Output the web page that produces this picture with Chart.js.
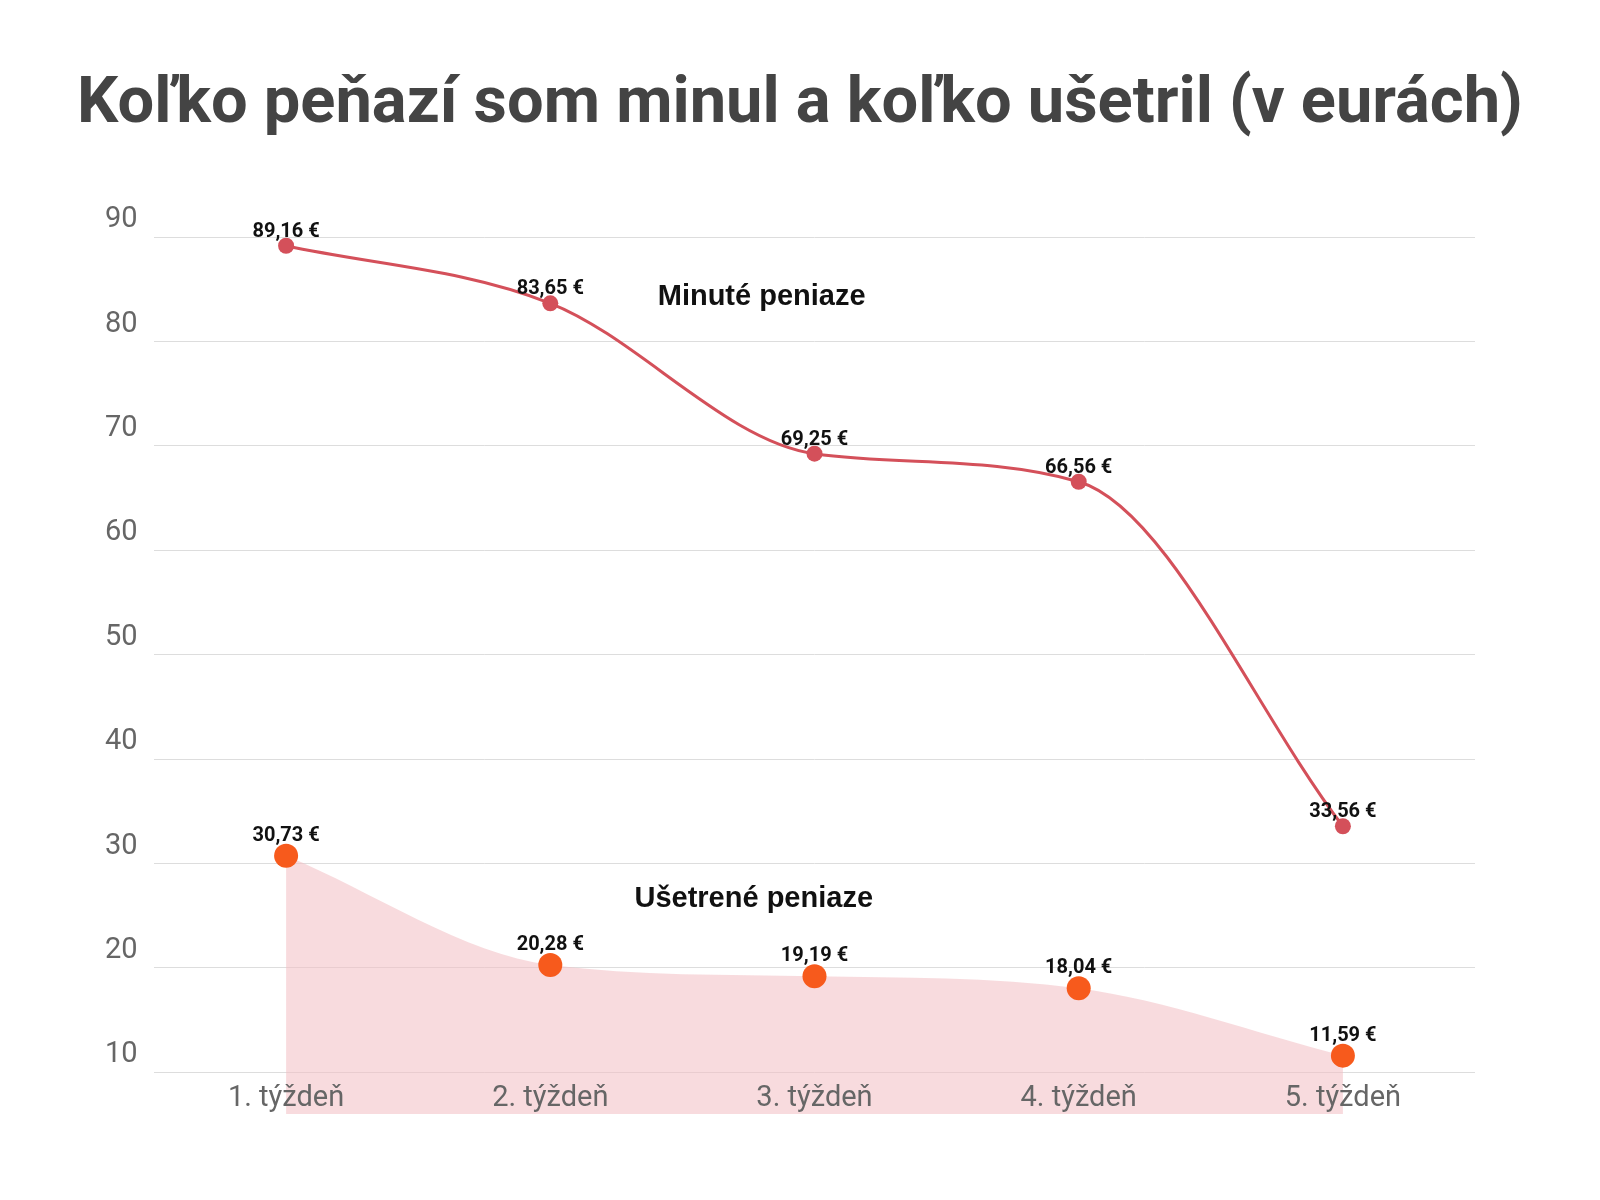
<!DOCTYPE html>
<html lang="sk">
<head>
<meta charset="UTF-8">
<title>Koľko peňazí som minul a koľko ušetril</title>
<script src="https://cdn.jsdelivr.net/npm/chart.js"></script>
<style>
  html, body { margin: 0; padding: 0; background: #fff; }
  #wrap { width: 1600px; height: 1200px; }
</style>
</head>
<body>
<div id="wrap"><canvas id="c" width="1600" height="1200"></canvas></div>
<script>
const weeks = ['1. týždeň', '2. týždeň', '3. týždeň', '4. týždeň', '5. týždeň'];
const spent = [89.16, 83.65, 69.25, 66.56, 33.56];
const saved = [30.73, 20.28, 19.19, 18.04, 11.59];
const yTicks = [10, 20, 30, 40, 50, 60, 70, 80, 90];

const fmt = v => v.toFixed(2).replace('.', ',') + ' €';

// titulok, popisy osi x, hodnôt a názvy sérií
const decor = {
  id: 'decor',
  afterDatasetsDraw(chart) {
    const { ctx, scales: { x, y } } = chart;
    ctx.save();
    ctx.fillStyle = '#444';
    ctx.font = 'bold 65px Roboto';
    ctx.textAlign = 'center';
    ctx.textBaseline = 'middle';
    ctx.fillText('Koľko peňazí som minul a koľko ušetril (v eurách)', 800, 106);

    ctx.fillStyle = '#666';
    ctx.font = '29px Roboto';
    weeks.forEach((w, i) => ctx.fillText(w, x.getPixelForValue(i), 1099));

    ctx.fillStyle = '#111';
    ctx.font = 'bold 20px Roboto';
    ctx.textBaseline = 'bottom';
    spent.forEach((v, i) => ctx.fillText(fmt(v), x.getPixelForValue(i), y.getPixelForValue(v) - 4));
    saved.forEach((v, i) => ctx.fillText(fmt(v), x.getPixelForValue(i), y.getPixelForValue(v) - 10));

    ctx.font = 'bold 29px "Liberation Sans"';
    ctx.textBaseline = 'middle';
    ctx.fillText('Minuté peniaze', x.getPixelForValue(1.8), y.getPixelForValue(84.3));
    ctx.fillText('Ušetrené peniaze', x.getPixelForValue(1.77), y.getPixelForValue(26.6));
    ctx.restore();
  }
};

new Chart(document.getElementById('c'), {
  type: 'line',
  data: {
    labels: weeks,
    datasets: [
      {
        data: saved,
        showLine: true,
        borderWidth: 0,
        borderColor: 'rgba(0,0,0,0)',
        backgroundColor: 'rgba(242,190,194,0.55)',
        fill: 'start',
        cubicInterpolationMode: 'monotone',
        pointRadius: 12,
        pointBackgroundColor: '#f75a1c',
        pointBorderWidth: 0
      },
      {
        data: spent,
        borderColor: '#d4505a',
        borderWidth: 3,
        cubicInterpolationMode: 'monotone',
        fill: false,
        pointRadius: 8,
        pointBackgroundColor: '#d4505a',
        pointBorderWidth: 0
      }
    ]
  },
  options: {
    responsive: false,
    animation: false,
    layout: { padding: { top: 237, left: 105, right: 125, bottom: 86 } },
    plugins: { legend: { display: false }, tooltip: { enabled: false } },
    scales: {
      x: {
        offset: true,
        grid: { display: false },
        border: { display: false },
        ticks: { display: false },
        afterFit(s) { s.height = 0; }
      },
      y: {
        min: 6,
        max: 90,
        afterBuildTicks(s) { s.ticks = yTicks.map(v => ({ value: v })); },
        afterFit(s) { s.width = 49; },
        grid: { color: '#ddd', drawTicks: false },
        border: { display: false },
        ticks: {
          crossAlign: 'far',
          padding: 0,
          labelOffset: -17,
          color: '#666',
          font: { family: 'Roboto', size: 29 }
        }
      }
    }
  },
  plugins: [decor]
});
</script>
</body>
</html>
